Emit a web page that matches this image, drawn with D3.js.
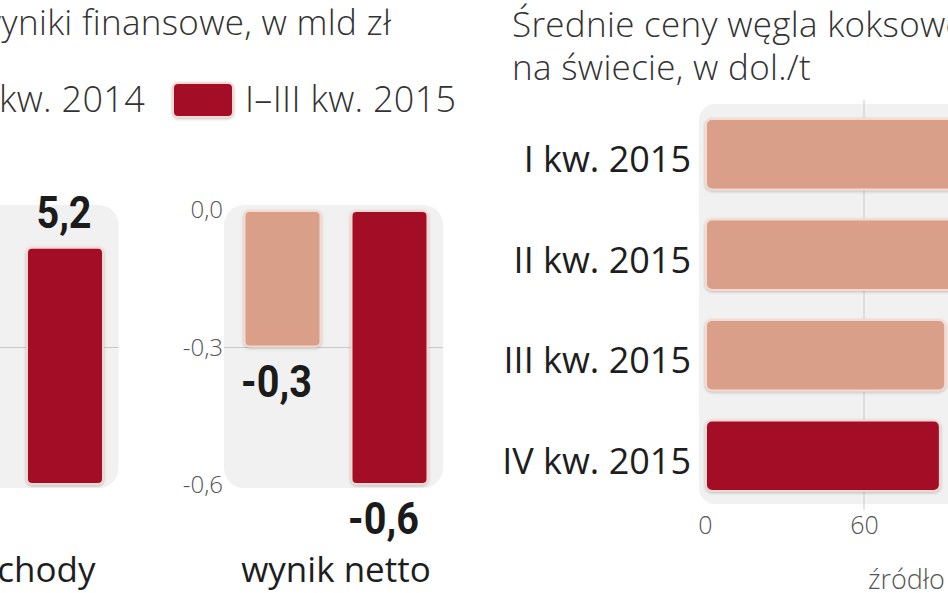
<!DOCTYPE html>
<html><head><meta charset="utf-8">
<script src="https://cdn.jsdelivr.net/npm/d3@7"></script>
<style>
html,body{margin:0;padding:0;background:#fff;overflow:hidden}
svg{display:block}
</style></head>
<body>
<svg id="c" width="948" height="593"></svg>
<script>
// ---- data ----
const seriesLabels = ["I–III kw. 2014", "I–III kw. 2015"];
const revenueValues = [5.3, 5.2];          // przychody, mld zł
const netValues = [-0.3, -0.6];            // wynik netto, mld zł
const revenueTicks = [0, 3, 6];
const netTicks = [0, -0.3, -0.6];
const quarters = ["I kw. 2015", "II kw. 2015", "III kw. 2015", "IV kw. 2015"];
const coalPrices = [117, 109.5, 91, 89];   // dol./t
const coalTicks = [0, 60, 120];

const colLight = "#d99f89", colDark = "#a30d28";
const fmt = v => d3.format(".1f")(v).replace(".", ",").replace("−", "-");

const svg = d3.select("#c");
const defs = svg.append("defs");
const f = defs.append("filter").attr("id","sh").attr("x","-20%").attr("y","-20%").attr("width","140%").attr("height","140%");
f.append("feDropShadow").attr("dx",0).attr("dy",1).attr("stdDeviation",1.6).attr("flood-color","#777").attr("flood-opacity",0.45);

const plain = "'Open Sans', 'Noto Sans', sans-serif";
const bold = "Roboto, 'Noto Sans', sans-serif";

// ---- titles / legend ----
svg.append("text").attr("x",-24).attr("y",35).attr("font-family",plain).attr("font-weight",300)
  .attr("font-size",35).attr("letter-spacing",0.3).attr("fill","#333").text("wyniki finansowe, w mld zł");

const legX = [145, 245];
svg.append("text").attr("x",legX[0]).attr("y",112).attr("text-anchor","end").attr("font-family",plain)
  .attr("font-weight",300).attr("font-size",36).attr("letter-spacing",0.3).attr("fill","#333").text(seriesLabels[0]);
svg.append("rect").attr("x",173).attr("y",83).attr("width",60).attr("height",34).attr("rx",5)
  .attr("fill",colDark).attr("stroke","#f7d9d0").attr("stroke-width",2).attr("filter","url(#sh)");
svg.append("text").attr("x",legX[1]).attr("y",112).attr("font-family",plain)
  .attr("font-weight",300).attr("font-size",36).attr("letter-spacing",0.3).attr("fill","#333").text(seriesLabels[1]);

// ---- vertical bar panels ----
function panel(offset, values, ticks, domain, showAxis, label){
  const x = d3.scaleBand().domain(seriesLabels).range([229+offset, 443+offset]).paddingInner(0.29).paddingOuter(0.145);
  const y = d3.scaleLinear().domain(domain).range([485, 210]);
  const g = svg.append("g");
  g.append("rect").attr("x",224+offset).attr("y",205).attr("width",219).attr("height",283).attr("rx",20).attr("fill","#f1f1f1");
  const mid = ticks[1];
  g.append("line").attr("x1",224+offset).attr("x2",443+offset).attr("y1",y(mid)).attr("y2",y(mid))
    .attr("stroke","#c9c9c9").attr("stroke-width",1);
  if (showAxis){
    const ax = g.append("g").attr("transform",`translate(${225+offset},0)`)
      .call(d3.axisLeft(y).tickValues(ticks).tickFormat(fmt).tickSize(0).tickPadding(2));
    ax.select(".domain").remove();
    ax.selectAll("text").attr("font-family",plain).attr("font-weight",300).attr("font-size",24).attr("fill","#555");
  }
  const base = y(0);
  g.selectAll("rect.bar").data(values).join("rect").attr("class","bar")
    .attr("x",(d,i)=>x(seriesLabels[i])).attr("width",x.bandwidth())
    .attr("y",d=>Math.min(y(d),base)+1).attr("height",d=>Math.abs(y(d)-base)-2)
    .attr("rx",5).attr("fill",(d,i)=>i===0?colLight:colDark)
    .attr("stroke","#f7d9d0").attr("stroke-width",2).attr("filter","url(#sh)");
  g.selectAll("text.val").data(values).join("text").attr("class","val")
    .attr("transform",(d,i)=>`translate(${x(seriesLabels[i])+x.bandwidth()/2 - (d<0?6:1)},${d>=0 ? y(d)-19 : y(d)+49}) scale(0.9,1)`)
    .attr("text-anchor","middle").attr("font-family",bold).attr("font-weight",700)
    .attr("font-size",44).attr("fill","#1b1b1b").text(fmt);
  g.append("text").attr("x",336+offset).attr("y",582).attr("text-anchor","middle")
    .attr("font-family",plain).attr("font-size",35).attr("fill","#1e1e1e").text(label);
}
panel(-324.5, revenueValues, revenueTicks, [0,6], false, "przychody");
panel(0, netValues, netTicks, [-0.6,0], true, "wynik netto");

// ---- horizontal coal panel ----
svg.append("text").attr("x",512).attr("y",37).attr("font-family",plain).attr("font-weight",300)
  .attr("font-size",35).attr("letter-spacing",0.3).attr("fill","#333").text("Średnie ceny węgla koksowego");
svg.append("text").attr("x",512).attr("y",80).attr("font-family",plain).attr("font-weight",300)
  .attr("font-size",35).attr("letter-spacing",0.3).attr("fill","#333").text("na świecie, w dol./t");

const xc = d3.scaleLinear().domain([0,120]).range([705, 1023]);
const yc = d3.scaleBand().domain(quarters).range([104, 506]).paddingInner(0.3).paddingOuter(0.15);
svg.append("rect").attr("x",699).attr("y",104).attr("width",290).attr("height",400).attr("rx",16).attr("fill","#f1f1f1");
svg.selectAll("line.vg").data(coalTicks.slice(1)).join("line").attr("class","vg")
  .attr("x1",d=>xc(d)).attr("x2",d=>xc(d)).attr("y1",100).attr("y2",510).attr("stroke","#c9c9c9");
svg.selectAll("rect.hb").data(coalPrices).join("rect").attr("class","hb")
  .attr("x",xc(0)+1).attr("y",(d,i)=>yc(quarters[i])).attr("height",yc.bandwidth())
  .attr("width",d=>xc(d)-xc(0)-2).attr("rx",6)
  .attr("fill",(d,i)=>i===3?colDark:colLight).attr("stroke","#f7d9d0").attr("stroke-width",2).attr("filter","url(#sh)");
const ya = svg.append("g").attr("transform","translate(691,0)")
  .call(d3.axisLeft(yc).tickSize(0).tickPadding(0));
ya.select(".domain").remove();
ya.selectAll("text").attr("font-family",plain).attr("font-weight",500).attr("font-size",36).attr("fill","#1e1e1e").attr("dy","0.5em");
const xa = svg.append("g").attr("transform","translate(0,510)")
  .call(d3.axisBottom(xc).tickValues(coalTicks).tickFormat(d3.format("d")).tickSize(0).tickPadding(6));
xa.select(".domain").remove();
xa.selectAll("text").attr("font-family",plain).attr("font-weight",300).attr("font-size",25).attr("fill","#555");

svg.append("text").attr("x",868).attr("y",589).attr("font-family",plain).attr("font-weight",300)
  .attr("font-size",27).attr("fill","#555").text("źródło");
</script>
</body></html>
